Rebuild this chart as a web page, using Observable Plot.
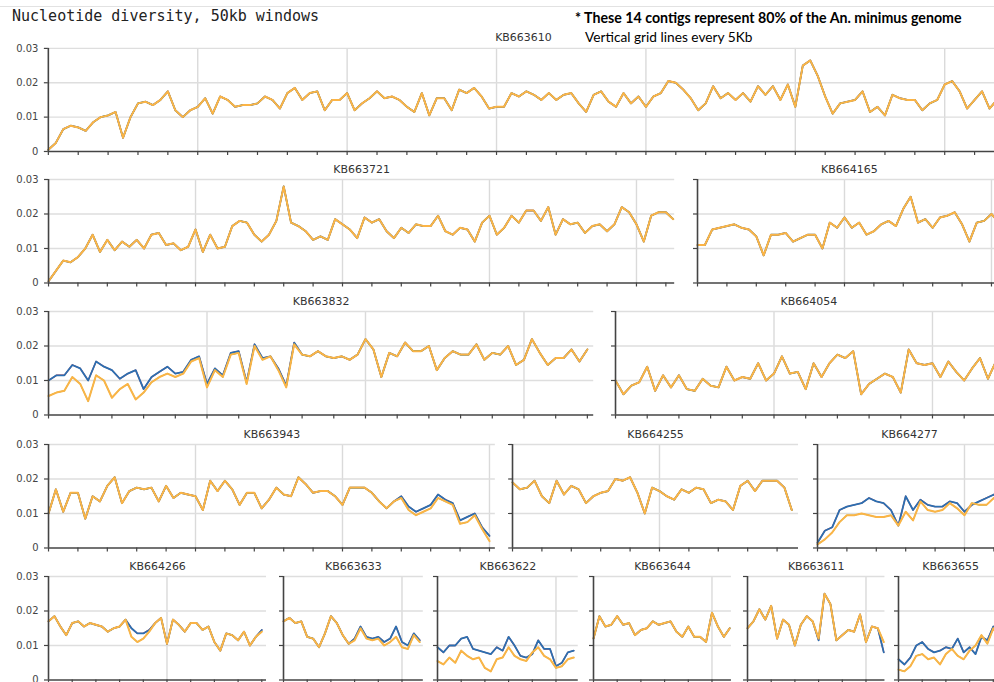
<!DOCTYPE html>
<html><head><meta charset="utf-8">
<script src="https://cdn.jsdelivr.net/npm/d3@7"></script>
<script src="https://cdn.jsdelivr.net/npm/@observablehq/plot@0.6"></script>
<style>
body{margin:0;background:#fff;}
#wrap{position:relative;width:994px;height:682px;overflow:hidden;background:#fff;}
.t{position:absolute;white-space:nowrap;}
</style></head><body><div id="wrap"></div>
<script>
// ---- DATA: nucleotide diversity, in units of 0.001,
// one value every 0.25 x-units (1 x-unit = one tick; grid lines every 5 units)
const windowStep = 0.25;
const contigs = ["KB663610","KB663721","KB664165","KB663832","KB664054","KB663943","KB664255","KB664277","KB664266","KB663633","KB663622","KB663644","KB663611","KB663655"];
const contigLengths = [31.8, 21.3, 10.33, 17.2, 12.2, 15.2, 9.73, 6.26, 9.2, 5.9, 5.94, 5.82, 5.8, 4.4];
const yTicks = [0, 0.01, 0.02, 0.03];
const yTickLabels = ["0", "0.01", "0.02", "0.03"];

const KB663610_orange = [0.5,2.5,6.5,7.5, 7,6,8.5,10, 10.5,11.5,4,10, 14,14.5,13.5,15, 17.5,12,10,12, 13,15.5,11,16, 15,13,13.5,13.5, 14,16,15,12.5, 17,18.5,15,17, 17.5,12,15,15, 17,12,14,15.5, 17.5,15.5,16,15, 13,11.5,17,10.5, 15.5,15.5,12,18, 17,18.5,16,12.5, 13,13,17,16, 17.5,16.5,15,17, 15,16.5,17,14, 11.5,16.5,17.5,14.5, 13,17,14,16, 13,16,17,20.5, 20,18,15.5,12, 14,19,15.5,17, 15,17,14.5,19, 16.5,19,15,19.5, 13,25,26.5,22, 16,11,14,14.5, 15,17.5,11.5,13, 10.5,16.5,15.5,15, 15,12,14,15, 19.5,20.5,17.5,12.5, 15,17.5,12.5,15];
const KB663721_orange = [0.5,3.5,6.5,6, 7.5,10,14,9, 12.5,9.5,12,10.5, 12.5,10,14,14.5, 11,11.5,9.5,10.5, 15.5,9,14,10, 10.5,16.5,18,17.5, 14,12,14,18, 28,17.5,16.5,15, 12.5,13.5,12.5,18.5, 17,15.5,13,19, 17.5,18.5,15,13, 16,14.5,17,16.5, 16.5,19.5,15,14, 16,15.5,12,17.5, 19.5,14,16,19.5, 17.5,21,21,18, 22,14,18.5,17, 17.5,14.5,16.5,17, 15,17,22,20.5, 17,12,19.5,20.5, 20.5,18.5];
const KB664165_orange = [11,11,15.5,16, 16.5,17,16,15.5, 13.5,8,14,14, 14.5,12,13,14, 14,10,17.5,16, 19,16,17.5,14, 15,17,18,16.5, 21.5,25,17.5,18.5, 16,19,19.5,20.5, 17,12,17.5,18, 20,17.5];
const KB663832_orange = [5.5,6.5,7,11, 9,4,11.5,10, 5,7.5,9,4.5, 6.5,9.5,11,12, 11,12,15.5,16.5, 8,13,11,17.5, 18,9,20,16, 17,13,8,20.5, 17.5,17,18.5,17, 16.5,17,16,17.5, 22,19,11,18, 17,21,18.5,18.5, 20,13,16.5,18.5, 17.5,17.5,20.5,16, 18,17.5,20,14.5, 16,22,18,14.5, 16.5,16.5,19,15.5, 19];
const KB663832_blue = [10,11.5,11.5,14.5, 13.5,10,15.5,14, 13,10.5,12,13, 7.5,11,12.5,14, 12,12.5,16,17, 9,13.5,11.5,18, 18.5,9.5,20.5,16.5, 17,13.5,8.5,21, 17.5,17,18.5,17, 16.5,17,16,17.5, 22,19,11,18, 17,21,18.5,18.5, 20,13,16.5,18.5, 17.5,17.5,20.5,16, 18,17.5,20,14.5, 16,22,18,14.5, 16.5,16.5,19,15.5, 19];
const KB664054_orange = [10,6,8.5,9.5, 14,7,11.5,8, 11.5,7.5,7,10.5, 8.5,8,14,10, 11,10.5,15,10, 12,17,12,12.5, 7.5,15,11,15, 17.5,16.5,18.5,6, 9,10.5,12,11, 6.5,19,15,14.5, 15,11,15.5,12.5, 10,13.5,16.5,10.5, 15.5];
const KB663943_orange = [10,17,10.5,16, 16,8.5,15,13.5, 18,20.5,13,16.5, 17.5,17,17.5,13.5, 18,14.5,16,15.5, 15,11,19.5,16.5, 19.5,17,12.5,16, 16,11.5,14,17.5, 15.5,15,20.5,18.5, 16,16.5,16.5,15, 12.5,17.5,17.5,17.5, 16,13.5,11.5,13.5, 14.5,11,9.5,10.5, 11.5,14.5,13.5,12.5, 7,7.5,9.5,5.5, 2];
const KB663943_blue = [10,17,10.5,16, 16,8.5,15,13.5, 18,20.5,13,16.5, 17.5,17,17.5,13.5, 18,14.5,16,15.5, 15,11,19.5,16.5, 19.5,17,12.5,16, 16,11.5,14,17.5, 15.5,15,20.5,18.5, 16,16.5,16.5,15, 12.5,17.5,17.5,17.5, 16,13.5,11.5,13.5, 15,12,10.5,11.5, 12.5,15.5,14,13, 8,9,10,6, 3.5];
const KB664255_orange = [19,17,17.5,19.5, 15,13,19.5,15.5, 18,17,13,15, 16,16.5,20,19.5, 20.5,16,10,17.5, 16.5,15,14,17, 16,17.5,17,13, 14,13.5,11,18, 19.5,16.5,19.5,19.5, 19.5,17.5,11];
const KB664277_orange = [1,2.5,4.5,7.5, 9.5,9.5,10,9.5, 9,9,9.5,6.5, 10.5,8,13.5,11, 10.5,11,13,11.5, 9.5,13,12.5,12.5, 14.5,12];
const KB664277_blue = [1.5,5,6,11, 12,12.5,13,14.5, 13.5,13,11,6.5, 15,11,14,12.5, 12,12,13.5,13, 10.5,12.5,13.5,14.5, 15.5,13];
const KB664266_orange = [17,18.5,15.5,13, 16.5,17,15.5,16.5, 16,15.5,14,15, 15.5,17.5,12.5,11, 12,14,16.5,18, 10.5,17.5,16,14, 16.5,16.5,14.5,15.5, 11,8.5,13.5,13, 11.5,14,10,12.5, 14];
const KB664266_blue = [17,18.5,15.5,13, 16.5,17,15.5,16.5, 16,15.5,14,15, 15.5,17.5,15,13.5, 13.5,14.5,16.5,18, 10.5,17.5,16,14, 16.5,16.5,14.5,15.5, 11,8.5,13.5,13, 11.5,14,10,12.5, 14.5];
const KB663633_orange = [17,18,16.5,17, 12.5,12,9.5,13.5, 18.5,16.5,13,10.5, 11.5,15,12,11.5, 12,10,11,12.5, 9.5,9,13,11];
const KB663633_blue = [17,18,16.5,17, 12.5,12,9.5,13.5, 18.5,16.5,13,10.5, 12,15.5,12.5,12, 12.5,11,12,15.5, 11,10,13.5,11.5];
const KB663622_orange = [5.5,4.5,6.5,5, 8.5,7,6,6.5, 3.5,2.5,6,6.5, 9.5,7,6,5.5, 8,9.5,7,6, 3.5,4,6,6.5];
const KB663622_blue = [9.5,8,10,10, 12,12.5,9,8.5, 8,7.5,9.5,8.5, 12.5,10,7,6.5, 7.5,11.5,9,9, 4,5,8,8.5];
const KB663644_orange = [12,18.5,15.5,16, 18.5,16,16.5,13, 14.5,15,17,16, 16.5,17,14,12.5, 15.5,12.5,12.5,11, 19.5,15.5,12.5,15];
const KB663611_orange = [15,17,20.5,17.5, 21.5,12,17.5,16, 10,16,18.5,17, 12,25,22,11.5, 13,14.5,14,19, 11,15.5,15,11];
const KB663611_blue = [15,17,20.5,17.5, 21.5,12,17.5,16, 10,16,18.5,17, 11.5,25,22,11.5, 13,14.5,14,19, 11,15.5,15,8];
const KB663655_orange = [3,2.5,4,7, 7.5,6,6.5,4.5, 7.5,9,7,6, 8.5,10,13,10.5, 15,12];
const KB663655_blue = [6,4.5,6.5,10, 11,9,8,8.5, 9.5,9,12,8, 9.5,7.5,12.5,11.5, 15.5,13];

const orangeByContig = {KB663610:KB663610_orange, KB663721:KB663721_orange, KB664165:KB664165_orange, KB663832:KB663832_orange, KB664054:KB664054_orange, KB663943:KB663943_orange, KB664255:KB664255_orange, KB664277:KB664277_orange, KB664266:KB664266_orange, KB663633:KB663633_orange, KB663622:KB663622_orange, KB663644:KB663644_orange, KB663611:KB663611_orange, KB663655:KB663655_orange};
// where blue/red visibly separate from green/orange
const blueByContig = {KB663832:KB663832_blue, KB663943:KB663943_blue, KB664277:KB664277_blue, KB664266:KB664266_blue, KB663633:KB663633_blue, KB663622:KB663622_blue, KB663611:KB663611_blue, KB663655:KB663655_blue};

// ---- LAYOUT
const rows = [["KB663610"],["KB663721","KB664165"],["KB663832","KB664054"],["KB663943","KB664255","KB664277"],["KB664266","KB663633","KB663622","KB663644","KB663611","KB663655"]];
const rowTop = [47.7, 179, 310.7, 444, 575.7];
const rowPxPerUnit = [30, 29.4, 31.7, 29.4, 23.7];
const panelLeft = [[48.3],[48.3,696.7],[48.3,615.3],[48.3,512.3,816.7],[48.3,282.7,437.3,592.7,746.7,898.3]];
const plotH = 103.5, mL = 42, mR = 2, mT = 24, mB = 8;
const drawOrder = ["red","blue","green","orange"];
const seriesColors = {red:"#de3038", blue:"#2a70b2", green:"#37a548", orange:"#fbb446"};
const seriesWidths = {red:1.4, blue:1.8, green:1.1, orange:2};

const wrap = document.getElementById("wrap");
function addText(txt, css){ const d=document.createElement("div"); d.className="t"; d.textContent=txt; d.style.cssText+=css; wrap.appendChild(d); }
const hr=document.createElement("div"); hr.style.cssText="position:absolute;left:0;top:6px;width:994px;height:1px;background:#e2e2e2"; wrap.appendChild(hr);
addText("Nucleotide diversity, 50kb windows","left:12px;top:6px;font:15px/20px 'DejaVu Sans Mono',monospace;color:#222;");
addText("* These 14 contigs represent 80% of the An. minimus genome","left:575px;top:9px;font:bold 14.2px/18px Lato,sans-serif;color:#000;");
addText("Vertical grid lines every 5Kb","left:585px;top:28px;font:13.7px/18px Lato,sans-serif;color:#000;");

rows.forEach((names, r) => {
  names.forEach((name, c) => {
    const L = contigLengths[contigs.indexOf(name)];
    const k = rowPxPerUnit[r];
    const orange = orangeByContig[name];
    const blue = blueByContig[name] || orange;
    const sets = {red: blue, blue: blue, green: orange, orange: orange};
    const lineMarks = drawOrder.map(s => Plot.line(sets[s].map((v,i)=>({x:i*windowStep, y:v/1000})), {x:"x", y:"y", stroke:seriesColors[s], strokeWidth:seriesWidths[s], strokeLinejoin:"round"}));
    const first = c === 0;
    const chart = Plot.plot({
      width: mL + L*k + mR, height: mT + plotH + mB,
      marginLeft: mL, marginRight: mR, marginTop: mT, marginBottom: mB,
      x: {domain:[0, L], label:null, axis:null},
      y: {domain:[0, 0.03], label:null, axis:null},
      style: {fontFamily:"'DejaVu Sans', sans-serif", fontSize:"10px", color:"#444", background:"transparent", overflow:"visible"},
      marks: [
        Plot.gridX(d3.range(5, L, 5), {stroke:"#dadada", strokeOpacity:1, strokeWidth:1.4}),
        Plot.gridY([0.01, 0.02, 0.03], {stroke:"#dedede", strokeOpacity:1, strokeWidth:1.4}),
        ...lineMarks,
        Plot.axisX({ticks: d3.range(0, L, 1), tickSize:4, tickFormat: () => "", stroke:"#444", strokeWidth:1.2}),
        Plot.axisY({ticks: yTicks, tickSize:4, tickPadding:6, tickFormat: first ? (d => yTickLabels[yTicks.indexOf(d)]) : (() => ""), stroke:"#444", strokeWidth:1.2}),
        Plot.ruleX([0], {stroke:"#444", strokeWidth:1.6}),
        Plot.ruleY([0], {stroke:"#444", strokeWidth:1.6}),
        Plot.text([name], {text: d=>d, frameAnchor:"top", lineAnchor:"middle", dy:-10.5, fontSize:11, fill:"#333"})
      ]
    });
    chart.style.position = "absolute";
    chart.style.left = (panelLeft[r][c] - mL) + "px";
    chart.style.top = (rowTop[r] - mT) + "px";
    wrap.appendChild(chart);
  });
});
</script></body></html>
